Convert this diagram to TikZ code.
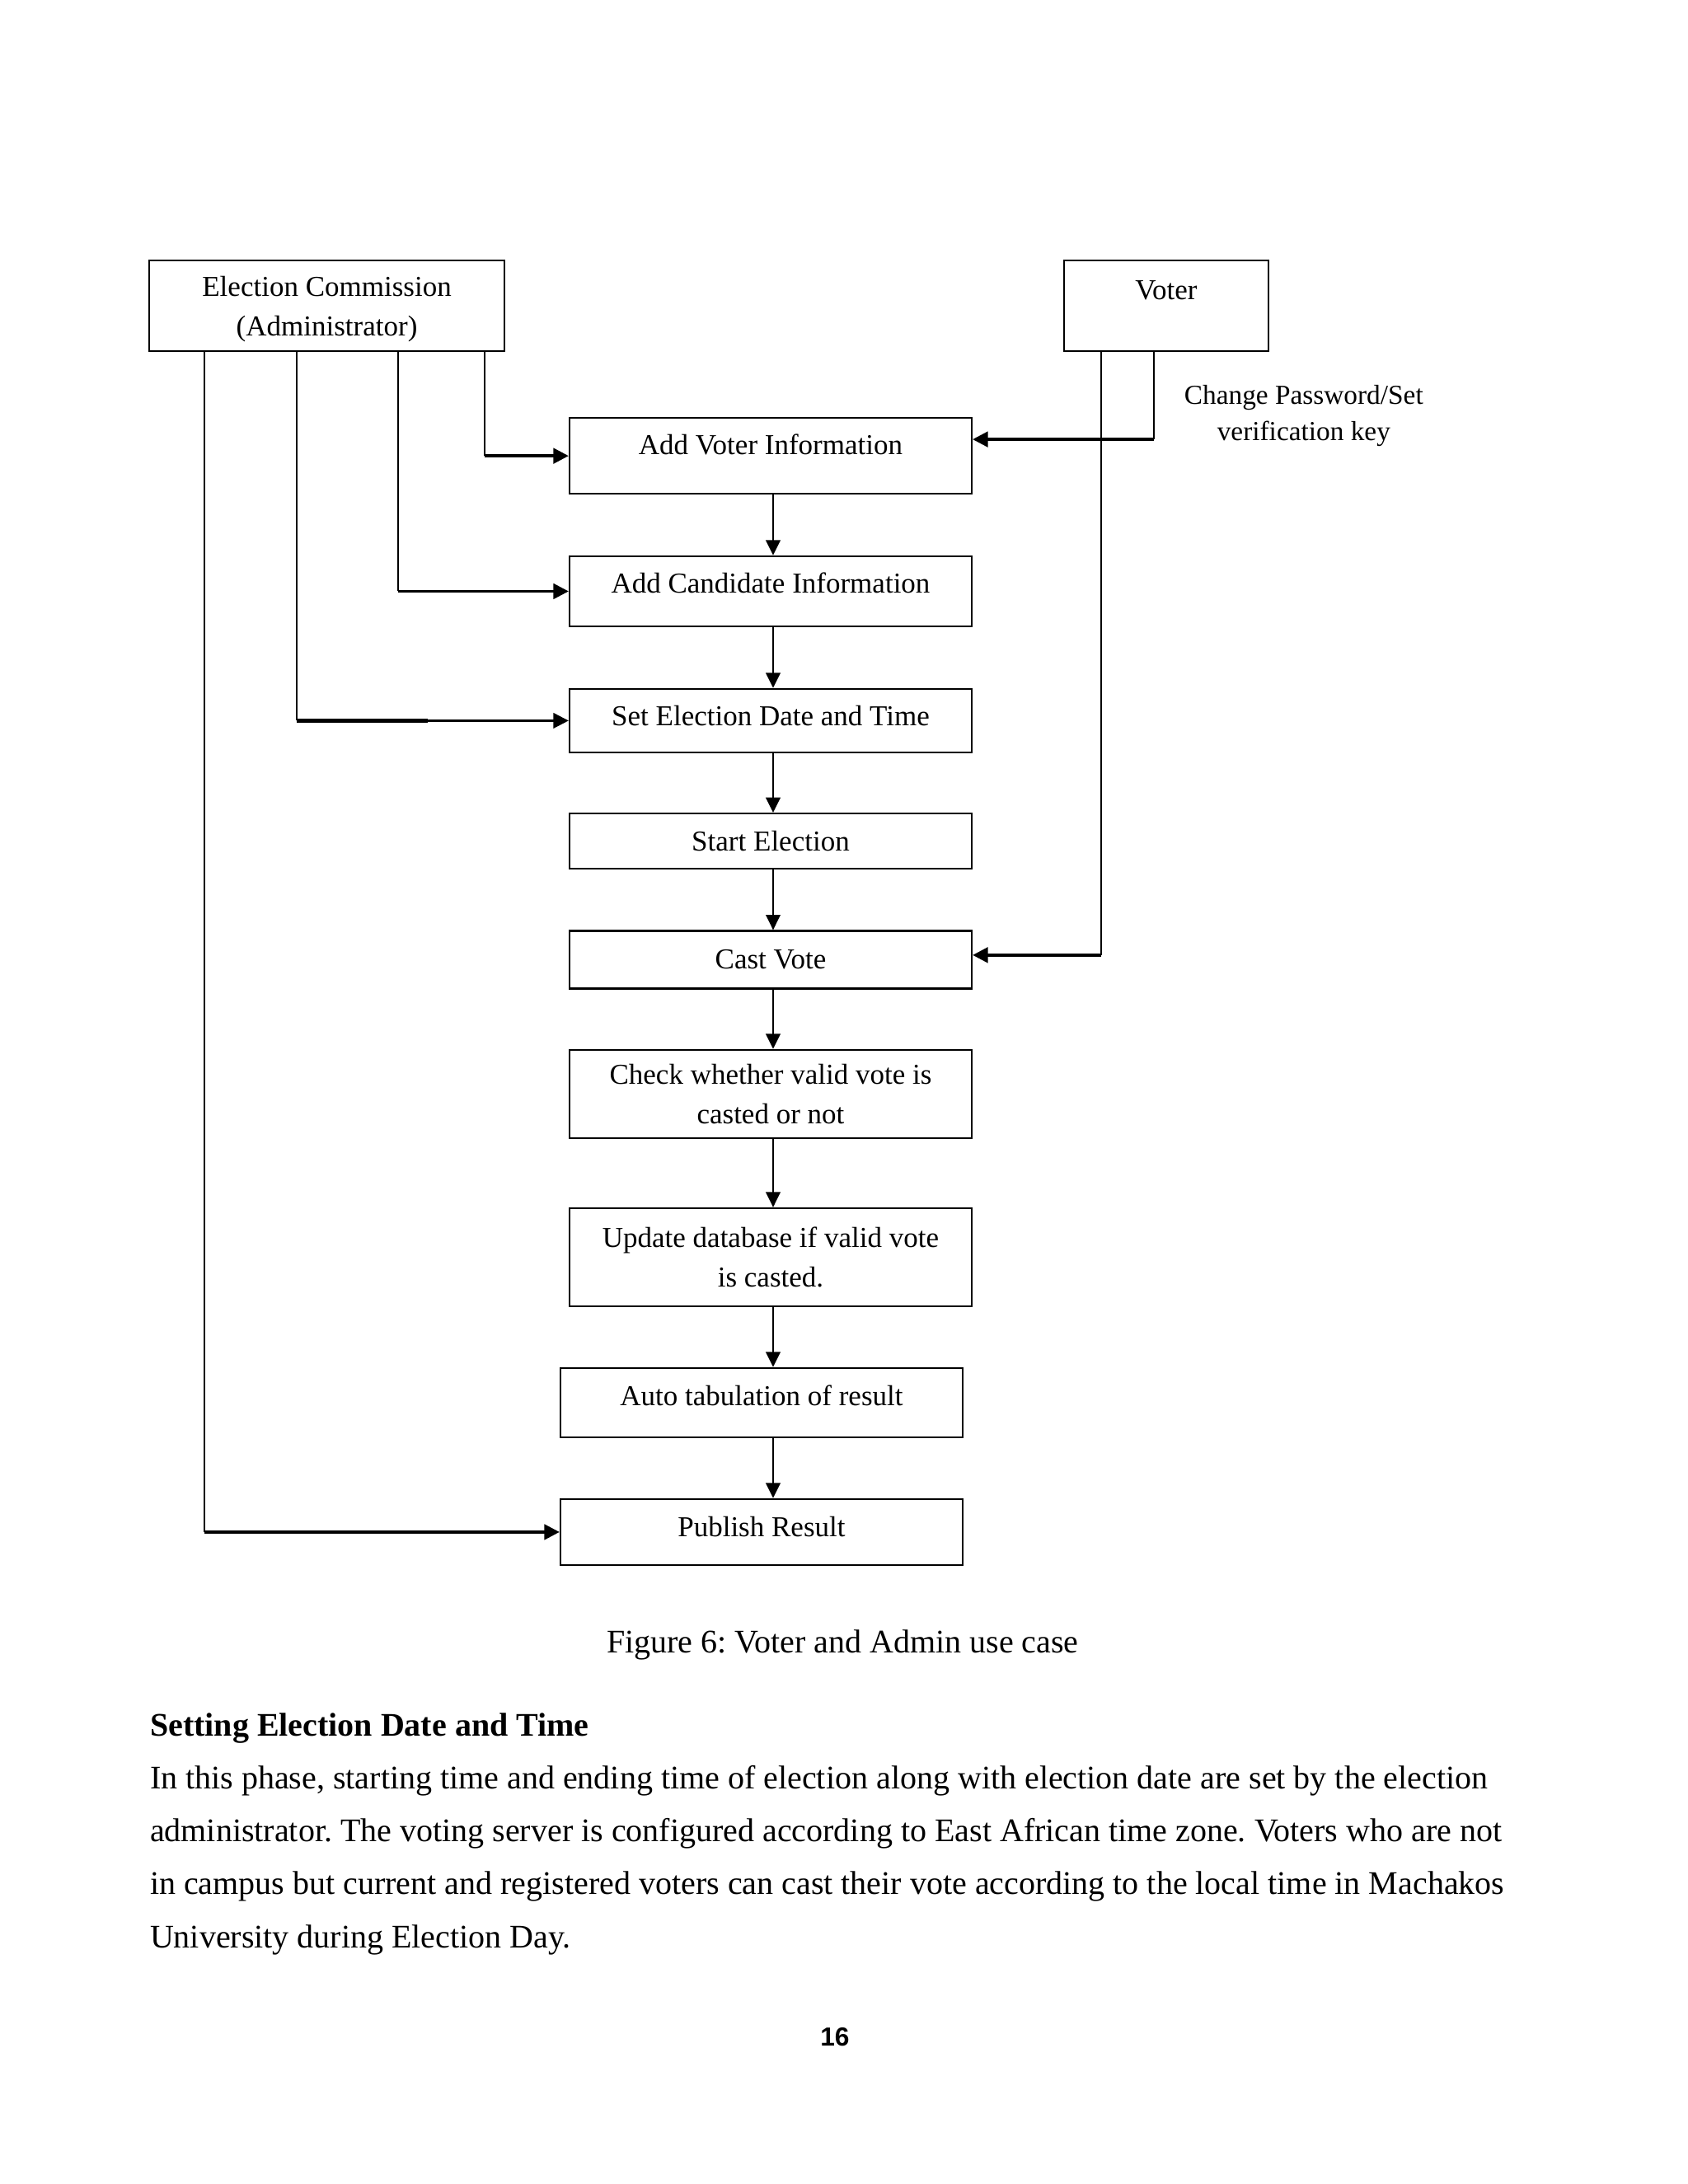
\documentclass[tikz,border=0pt]{standalone}
\usepackage{fontspec}
\setmainfont{Liberation Serif}
\newfontfamily\pagenumfont{Liberation Sans}
\usepackage{tikz}
\usetikzlibrary{arrows.meta}
\frenchspacing

\newcommand\diagfont{\fontsize{10.5}{14.3}\selectfont}
\newcommand\keyfont{\fontsize{10}{13.2}\selectfont}
\newcommand\paratext{\fontsize{12}{19.2}\selectfont}

\tikzset{
  box/.style={draw, line width=0.7bp, minimum width=145.8bp, inner sep=0pt, align=center, font=\diagfont},
  lift/.style={text depth=#1},
  wire/.style={line width=0.6bp},
  feed/.style={line width=1bp, -{Triangle[length=5.5bp,width=5.5bp]}},
  flow/.style={line width=0.8bp, -{Triangle[length=5.5bp,width=5.2bp]}},
  page/.style={inner sep=0pt, font=\paratext},
}

\begin{document}
\begin{tikzpicture}[x=1bp, y=-1bp]

\fill[white] (0,0) rectangle (612,791.9);
\useasboundingbox (0,0) rectangle (612,791.9);

% actors
\node[box, minimum width=128.8bp, minimum height=32.9bp, lift=0bp] (ec) at (118.5,110.9) {Election Commission\\(Administrator)};
\node[box, minimum width=74.1bp, minimum height=32.9bp, lift=11.4bp] (voter) at (422.8,110.9) {Voter};

% steps
\node[box, minimum height=27.5bp, lift=8.4bp] (avi) at (279.4,165.3) {Add Voter Information};
\node[box, minimum height=25.4bp, lift=6.3bp] (aci) at (279.4,214.4) {Add Candidate Information};
\node[box, minimum height=23.0bp, lift=3.9bp] (sedt) at (279.4,261.3) {Set Election Date and Time};
\node[box, minimum height=20.0bp] (start) at (279.4,305.0) {Start Election};
\node[box, minimum height=20.9bp] (cast) at (279.4,348.0) {Cast Vote};
\node[box, minimum height=32.0bp] (check) at (279.4,396.7) {Check whether valid vote is\\casted or not};
\node[box, minimum height=35.6bp] (update) at (279.4,455.9) {Update database if valid vote\\is casted.};
\node[box, minimum height=25.1bp, lift=5.4bp] (auto) at (276.1,508.6) {Auto tabulation of result};
\node[box, minimum height=23.9bp, lift=4.2bp] (pub) at (276.1,555.5) {Publish Result};

\node[align=center, font=\keyfont] (key) at (472.7,150.9) {Change Password/Set\\verification key};

% columns of the connectors
\coordinate (a1) at (74.1,0);
\coordinate (a2) at (107.6,0);
\coordinate (a3) at (144.3,0);
\coordinate (a4) at (175.7,0);
\coordinate (kink) at (155.1,0);
\coordinate (v1) at (399.2,0);
\coordinate (v2) at (418.4,0);
\coordinate (spine) at (280.3,0);
\coordinate (vin) at ([yshift=6bp]avi.east);
\coordinate (cin) at ([yshift=1.7bp]cast.east);

% main flow
\draw[flow] (avi.south -| spine) -- (aci.north -| spine);
\draw[flow] (aci.south -| spine) -- (sedt.north -| spine);
\draw[flow] (sedt.south -| spine) -- (start.north -| spine);
\draw[flow] (start.south -| spine) -- (cast.north -| spine);
\draw[flow] (cast.south -| spine) -- (check.north -| spine);
\draw[flow] (check.south -| spine) -- (update.north -| spine);
\draw[flow] (update.south -| spine) -- (auto.north -| spine);
\draw[flow] (auto.south -| spine) -- (pub.north -| spine);

% administrator
\draw[wire] (ec.south -| a4) -- (a4 |- avi.west);
\draw[feed] (a4 |- avi.west) -- (avi.west);
\draw[wire] (ec.south -| a3) -- (a3 |- aci.west);
\draw[feed] (a3 |- aci.west) -- (aci.west);
\draw[wire] (ec.south -| a2) -- (a2 |- sedt.west);
\draw[line width=1.4bp] (a2 |- sedt.west) -- (kink |- sedt.west);
\draw[feed, line width=0.7bp] (kink |- sedt.west) -- (sedt.west);
\draw[wire] (ec.south -| a1) -- (a1 |- pub.west);
\draw[feed] (a1 |- pub.west) -- (pub.west);

% voter
\draw[wire] (voter.south -| v2) -- (v2 |- vin);
\draw[feed] (v2 |- vin) -- (vin);
\draw[wire] (voter.south -| v1) -- (v1 |- cin);
\draw[feed] (v1 |- cin) -- (cin);

% text below the figure
\node[page, anchor=base] (caption) at (305.5,599.2) {Figure 6: Voter and Admin use case};
\node[page, anchor=base west, font=\paratext\bfseries] (head) at (54.2,629.4) {Setting Election Date and Time};
\node[page, anchor=base west] (line1) at (54.2,648.6) {In this phase, starting time and ending time of election along with election date are set by the election};
\node[page, anchor=base west] (line2) at (54.2,667.8) {administrator. The voting server is configured according to East African time zone. Voters who are not};
\node[page, anchor=base west] (line3) at (54.2,687.0) {in campus but current and registered voters can cast their vote according to the local time in Machakos};
\node[page, anchor=base west] (line4) at (54.2,706.2) {University during Election Day.};
\node[inner sep=0pt, anchor=base, font=\pagenumfont\bfseries\fontsize{9.5}{11}\selectfont] (pnum) at (302.7,741.7) {16};

\end{tikzpicture}
\end{document}
